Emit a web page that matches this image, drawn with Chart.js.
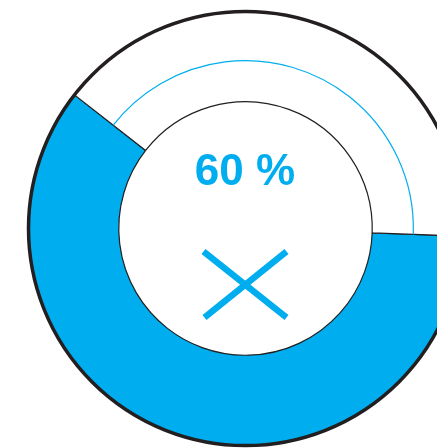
<!DOCTYPE html>
<html>
<head>
<meta charset="utf-8">
<script src="https://cdn.jsdelivr.net/npm/chart.js@4"></script>
<style>
  html, body { margin: 0; padding: 0; background: #fff; overflow: hidden; width: 437px; height: 448px; }
  #wrap { position: absolute; left: 0; top: 0; width: 491px; height: 457px; }
</style>
</head>
<body>
<div id="wrap"><canvas id="gauge"></canvas></div>
<script>
// gauge data
const categories = ['Done', 'Remaining'];
const gaugeValues = [60, 40];
const segmentColors = ['#00aeef', '#ffffff'];

const BLUE = '#00aeef';

// outer ring, thin track arc, label and cross mark
const gaugeDecor = {
    id: 'gaugeDecor',
    afterDatasetsDraw(chart) {
        const { ctx } = chart;
        const arcs = chart.getDatasetMeta(0).data;
        const first = arcs[0];
        const cx = first.x, cy = first.y;
        const outer = first.outerRadius, inner = first.innerRadius;

        // thin track line through the remaining part
        const rest = arcs[1];
        ctx.save();
        ctx.strokeStyle = BLUE;
        ctx.lineWidth = 1.2;
        ctx.beginPath();
        ctx.arc(cx, cy, (outer + inner) / 2 - 4, rest.startAngle, rest.endAngle);
        ctx.stroke();

        // heavy outer circle
        ctx.strokeStyle = '#231f20';
        ctx.lineWidth = 3.5;
        ctx.beginPath();
        ctx.arc(cx, cy, outer, 0, Math.PI * 2);
        ctx.stroke();

        // percentage label
        ctx.fillStyle = BLUE;
        ctx.font = 'bold 44px "Liberation Sans", Arial, sans-serif';
        ctx.textAlign = 'center';
        ctx.textBaseline = 'alphabetic';
        ctx.fillText(gaugeValues[0] + ' %', cx - 0.5, cy - 43.5);

        // cross mark
        ctx.strokeStyle = BLUE;
        ctx.lineWidth = 6.5;
        ctx.lineCap = 'butt';
        ctx.beginPath();
        ctx.moveTo(cx - 42, cy + 23);
        ctx.lineTo(cx + 41, cy + 89);
        ctx.moveTo(cx + 41, cy + 23);
        ctx.lineTo(cx - 41, cy + 89);
        ctx.stroke();
        ctx.restore();
    }
};

new Chart(document.getElementById('gauge'), {
    type: 'doughnut',
    data: {
        labels: categories,
        datasets: [{
            data: gaugeValues,
            backgroundColor: segmentColors,
            borderColor: '#231f20',
            borderWidth: 1.2,
            hoverOffset: 0
        }]
    },
    options: {
        responsive: true,
        maintainAspectRatio: false,
        animation: false,
        radius: 217,
        cutout: '58.4%',
        rotation: 92,
        layout: { padding: 0 },
        plugins: {
            legend: { display: false },
            tooltip: { enabled: false }
        }
    },
    plugins: [gaugeDecor]
});
</script>
</body>
</html>
